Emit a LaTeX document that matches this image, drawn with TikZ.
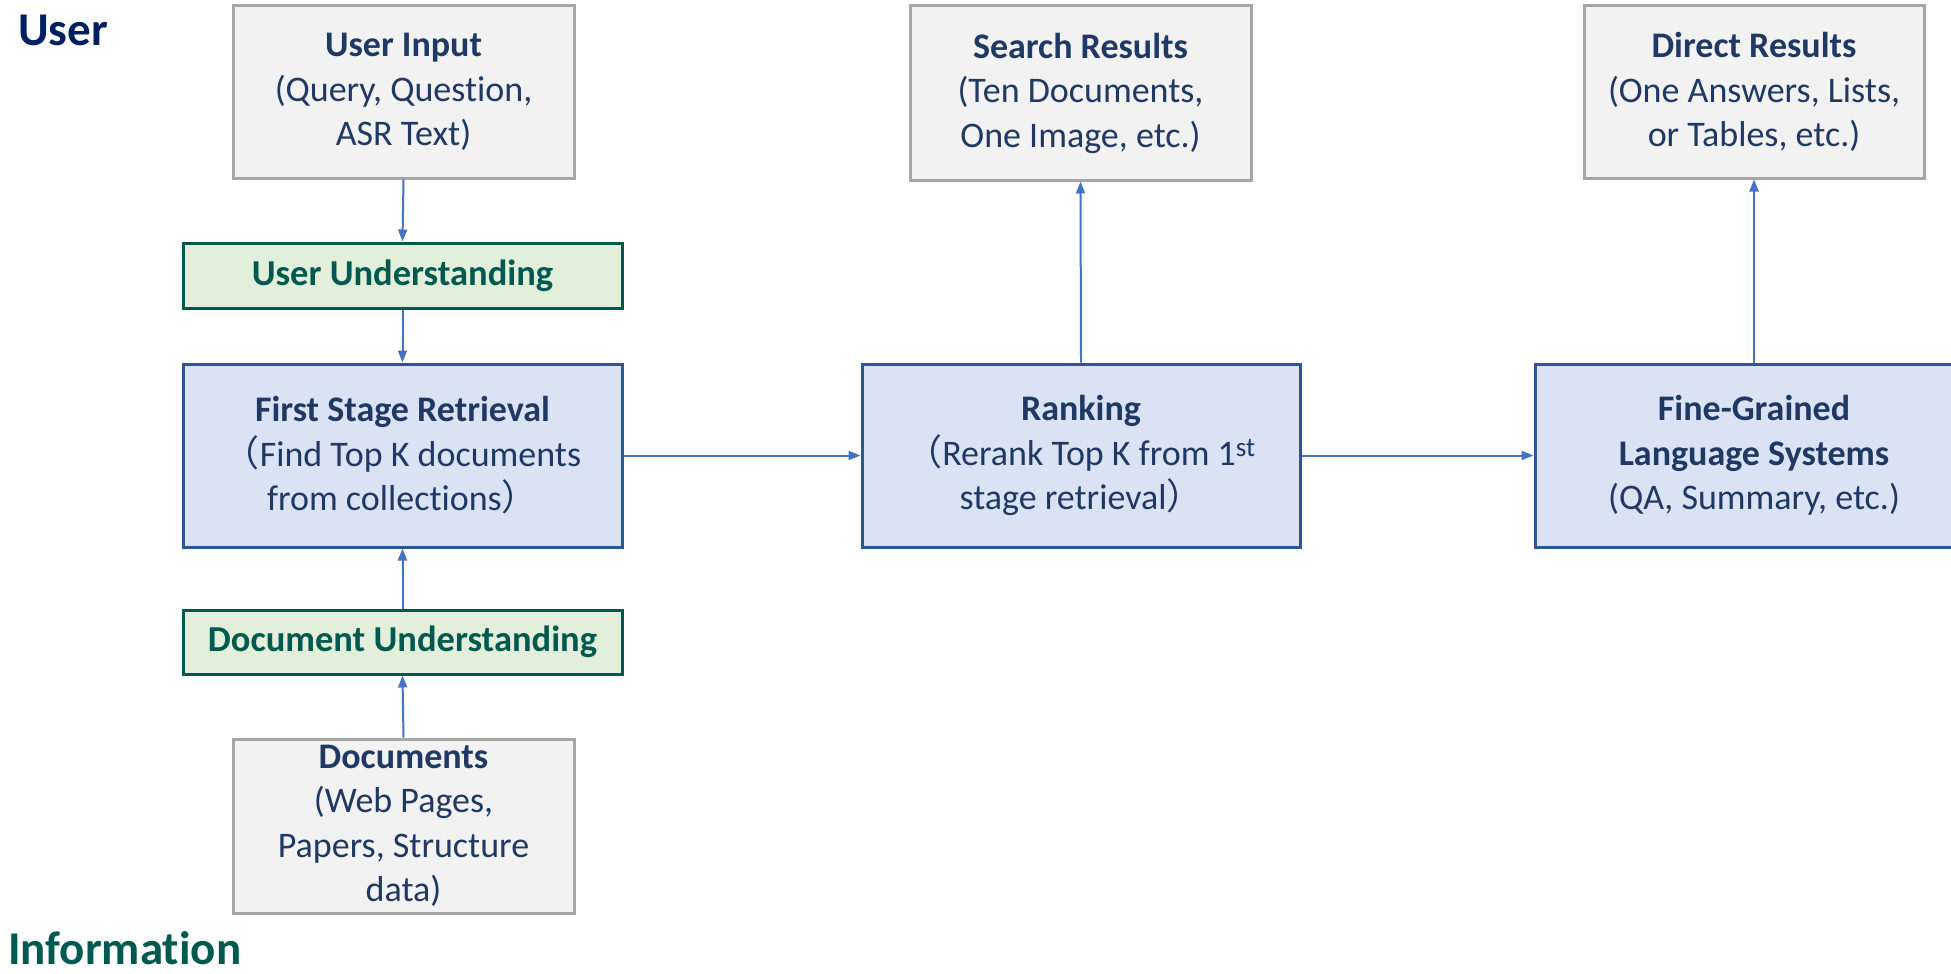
\documentclass[tikz,border=0pt]{standalone}
\usepackage{fontspec}
\setmainfont{Carlito}[Ligatures=CommonOff]
\newfontfamily\cjk{Noto Sans CJK SC}
\usetikzlibrary{arrows.meta}

\definecolor{boxtext}{HTML}{203864}
\definecolor{labelnavy}{HTML}{002060}
\definecolor{tealdark}{HTML}{00594F}
\definecolor{greenfill}{HTML}{E2EFDA}
\definecolor{bluefill}{HTML}{DAE3F3}
\definecolor{blueline}{HTML}{2F5597}
\definecolor{grayfill}{HTML}{F2F2F2}
\definecolor{grayline}{HTML}{A6A6A6}
\definecolor{arrowblue}{HTML}{4472C4}

\tikzset{
  boxfont/.style={font=\fontsize{36pt}{44.5pt}\selectfont},
  basebox/.style={boxfont, inner sep=0pt, align=center, line width=3pt},
  graybox/.style={basebox, draw=grayline, fill=grayfill, text=boxtext},
  bluebox/.style={basebox, draw=blueline, fill=bluefill, text=boxtext},
  greenbox/.style={basebox, draw=tealdark, fill=greenfill, text=tealdark,
    font=\fontsize{36.5pt}{44pt}\selectfont\bfseries},
  sidelabel/.style={anchor=base west, inner sep=0pt,
    font=\fontsize{47pt}{56pt}\selectfont\bfseries},
  conn/.style={draw=arrowblue, line width=2pt,
    -{Triangle[length=12pt,width=9pt]}},
}

\begin{document}
\begin{tikzpicture}[x=1pt,y=-1pt]
\useasboundingbox (0,0) rectangle (1951,974);
\clip (0,0) rectangle (1951,974);

% side labels
\node[sidelabel, text=labelnavy] (userlbl) at (18,46) {User};
\node[sidelabel, text=tealdark] (infolbl) at (8,964) {Information};

% left column
\node[graybox, minimum width=341pt, minimum height=172pt] (ui) at (403.5,92)
  {\textbf{User Input}\\(Query, Question,\\ASR Text)};
\node[greenbox, minimum width=439pt, minimum height=65pt] (uu) at (402.5,275.5)
  {User Understanding};
\node[bluebox, minimum width=439pt, minimum height=183pt] (fsr) at (402.5,455.5)
  {\textbf{First Stage Retrieval}\\{\cjk （}Find Top K documents\\from collections{\cjk ）}};
\node[greenbox, minimum width=439pt, minimum height=64pt] (du) at (402.5,642)
  {Document Understanding};
\node[graybox, minimum width=341pt, minimum height=174pt] (docs) at (403.5,826)
  {\textbf{Documents}\\(Web Pages,\\Papers, Structure\\data)};

% ranking column
\node[bluebox, minimum width=438pt, minimum height=183pt] (rank) at (1081,455.5)
  {\textbf{Ranking}\\{\cjk （}Rerank Top K from 1\textsuperscript{\fontsize{27pt}{30pt}\selectfont st}\\stage retrieval{\cjk ）}};
\node[graybox, minimum width=341pt, minimum height=174pt] (sr) at (1080.5,93)
  {\textbf{Search Results}\\(Ten Documents,\\One Image, etc.)};

% fine-grained column
\node[bluebox, minimum width=438pt, minimum height=183pt] (fine) at (1754,455.5)
  {\textbf{Fine-Grained}\\\textbf{Language Systems}\\(QA, Summary, etc.)};
\node[graybox, minimum width=340pt, minimum height=172pt] (dr) at (1754,92)
  {\textbf{Direct Results}\\(One Answers, Lists,\\or Tables, etc.)};

% connectors
\draw[conn] (ui.south) -- (uu.north);
\draw[conn] (uu.south) -- (fsr.north);
\draw[conn] (docs.north) -- (du.south);
\draw[conn] (du.north) -- (fsr.south);
\draw[conn] (fsr.east) -- (rank.west);
\draw[conn] (rank.north) -- (sr.south);
\draw[conn] (rank.east) -- (fine.west);
\draw[conn] (fine.north) -- (dr.south);
\end{tikzpicture}
\end{document}
